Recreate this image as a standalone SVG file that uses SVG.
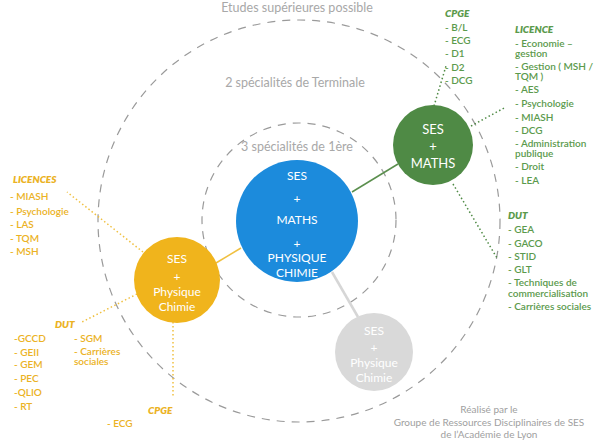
<svg xmlns="http://www.w3.org/2000/svg" width="595" height="442" viewBox="0 0 595 442">
<style>
text{font-family:Lato,"Noto Sans","DejaVu Sans",sans-serif}
.ring{fill:none;stroke:#9a9a9a;stroke-width:1.2;stroke-dasharray:8 7}
.lbl{fill:#a8a8a8;font-size:12.5px;text-anchor:middle}
.cr{fill:#a0a0a0;font-size:10px;text-anchor:middle}
.g{fill:#5b9a4c;font-size:10px;font-weight:600}
.y{fill:#ebb224;font-size:10px;font-weight:600}
.h{font-style:italic;font-weight:800}
.w{fill:#fff;text-anchor:middle}
.dg{stroke:#4f8a45;stroke-width:1.5;stroke-dasharray:1.5 2.5;fill:none}
.dy{stroke:#f0c040;stroke-width:1.5;stroke-dasharray:1.5 2.5;fill:none}
</style>
<rect width="595" height="442" fill="#fff"/>
<g id="rings">
<circle class="ring" cx="299" cy="221" r="201"/>
<circle class="ring" cx="299" cy="220" r="97"/>
</g>
<g id="labels">
<text class="lbl" x="297" y="12">Etudes supérieures possible</text>
<text class="lbl" x="295" y="87">2 spécialités de Terminale</text>
<text class="lbl" x="297" y="151">3 spécialités de 1ère</text>
</g>
<g id="connectors">
<line x1="352" y1="192" x2="398" y2="164" stroke="#5b8f4e" stroke-width="1.5"/>
<line x1="241" y1="248" x2="216" y2="263" stroke="#f0c040" stroke-width="1.5"/>
<line x1="332" y1="272" x2="358" y2="317" stroke="#d6d6d6" stroke-width="2.5"/>
<path class="dg" d="M434,106 L446,66"/>
<path class="dg" d="M471,126 L506,107"/>
<path class="dg" d="M453,184 L497,258"/>
<path class="dy" d="M143,252 L67,192"/>
<path class="dy" d="M137,294 L82,322"/>
<path class="dy" d="M173,322 L173,396"/>
</g>
<g id="blue">
<circle cx="297" cy="221" r="61" fill="#1c8bdc"/>
<text class="w" x="297" y="180" font-size="12">SES</text>
<text class="w" x="297" y="203" font-size="12">+</text>
<text class="w" x="297" y="224" font-size="12">MATHS</text>
<text class="w" x="297" y="248" font-size="12">+</text>
<text class="w" x="297" y="262" font-size="12">PHYSIQUE</text>
<text class="w" x="297" y="277" font-size="12">CHIMIE</text>
</g>
<g id="green">
<circle cx="433" cy="145" r="40" fill="#4f8a45"/>
<text class="w" x="433" y="134" font-size="13">SES</text>
<text class="w" x="433" y="151" font-size="13">+</text>
<text class="w" x="433" y="168" font-size="13">MATHS</text>
</g>
<g id="yellow">
<circle cx="177" cy="280" r="43" fill="#f0b41c"/>
<text class="w" x="177" y="263" font-size="12">SES</text>
<text class="w" x="177" y="281" font-size="12">+</text>
<text class="w" x="177" y="296" font-size="12">Physique</text>
<text class="w" x="177" y="311" font-size="12">Chimie</text>
</g>
<g id="gray">
<circle cx="374" cy="352" r="39" fill="#d9d9d9"/>
<text class="w" x="374" y="335" font-size="12">SES</text>
<text class="w" x="374" y="352" font-size="12">+</text>
<text class="w" x="374" y="367" font-size="12">Physique</text>
<text class="w" x="374" y="382" font-size="12">Chimie</text>
</g>
<g id="green-cpge">
<text class="g h" x="445" y="17">CPGE</text>
<text class="g" x="445" y="31">- B/L</text>
<text class="g" x="445" y="44">- ECG</text>
<text class="g" x="445" y="57">- D1</text>
<text class="g" x="445" y="71">- D2</text>
<text class="g" x="445" y="84">- DCG</text>
</g>
<g id="green-licence">
<text class="g h" x="515" y="33">LICENCE</text>
<text class="g" x="515" y="47">- Economie –</text>
<text class="g" x="515" y="57">gestion</text>
<text class="g" x="515" y="70">- Gestion ( MSH /</text>
<text class="g" x="515" y="80">TQM )</text>
<text class="g" x="515" y="93">- AES</text>
<text class="g" x="515" y="107">- Psychologie</text>
<text class="g" x="515" y="121">- MIASH</text>
<text class="g" x="515" y="134">- DCG</text>
<text class="g" x="515" y="147">- Administration</text>
<text class="g" x="515" y="157">publique</text>
<text class="g" x="515" y="170">- Droit</text>
<text class="g" x="515" y="184">- LEA</text>
</g>
<g id="green-dut">
<text class="g h" x="508" y="219">DUT</text>
<text class="g" x="508" y="233">- GEA</text>
<text class="g" x="508" y="247">- GACO</text>
<text class="g" x="508" y="260">- STID</text>
<text class="g" x="508" y="273">- GLT</text>
<text class="g" x="508" y="286">- Techniques de</text>
<text class="g" x="508" y="297">commercialisation</text>
<text class="g" x="508" y="310">- Carrières sociales</text>
</g>
<g id="yellow-licences">
<text class="y h" x="13" y="183">LICENCES</text>
<text class="y" x="10" y="200">- MIASH</text>
<text class="y" x="10" y="215">- Psychologie</text>
<text class="y" x="10" y="228">- LAS</text>
<text class="y" x="10" y="242">- TQM</text>
<text class="y" x="10" y="255">- MSH</text>
</g>
<g id="yellow-dut">
<text class="y h" x="55" y="328">DUT</text>
<text class="y" x="14" y="342">-GCCD</text>
<text class="y" x="14" y="356">- GEII</text>
<text class="y" x="14" y="368">- GEM</text>
<text class="y" x="14" y="382">- PEC</text>
<text class="y" x="14" y="396">-QLIO</text>
<text class="y" x="14" y="410">- RT</text>
<text class="y" x="74" y="342">- SGM</text>
<text class="y" x="74" y="355">- Carrières</text>
<text class="y" x="74" y="365">sociales</text>
</g>
<g id="yellow-cpge">
<text class="y h" x="148" y="414">CPGE</text>
<text class="y" x="107" y="427">- ECG</text>
</g>
<g id="credits">
<text class="cr" x="489" y="413">Réalisé par le</text>
<text class="cr" x="489" y="426">Groupe de Ressources Disciplinaires de SES</text>
<text class="cr" x="489" y="438">de l’Académie de Lyon</text>
</g>
</svg>
